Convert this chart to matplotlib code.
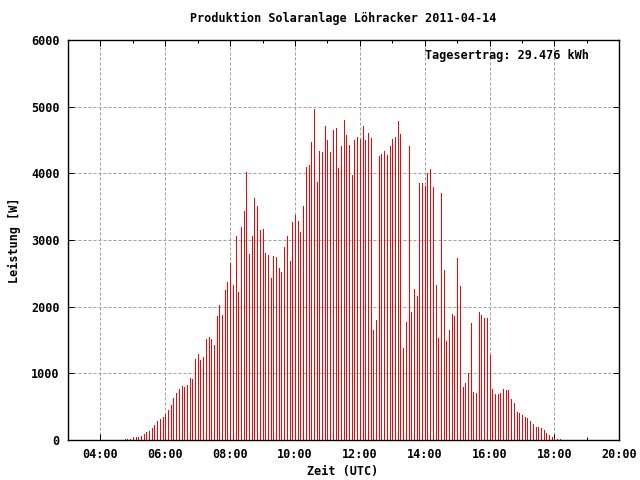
import matplotlib
matplotlib.use("Agg")
import matplotlib.pyplot as plt
import numpy as np

# ---- data (5-minute power readings, W) ----
start_hour = 4.75          # 04:45 UTC
step_hours = 5 / 60.0      # 5-minute interval
power_w = [
    15, 15, 15, 30, 45, 45, 65, 95, 120, 135, 180, 225, 285, 315, 345, 385, 450, 525, 630, 705,
    765, 810, 795, 825, 930, 915, 1215, 1290,
    1200, 1245, 1515, 1545, 1515, 1425, 1860, 2025, 1875, 2250, 2370, 2655, 2325, 3060, 2220, 3195,
    3435, 4020, 2790, 3060, 3630, 3510, 3150, 3165, 2805, 2775, 2430, 2760, 2745, 2580,
    2520, 2895, 3060, 2685, 3270, 3375, 3285, 3120, 3510, 4095, 4125, 4470, 4965, 3870, 4335, 4320,
    4710, 4500, 4320, 4650, 4680, 4080, 4410, 4800, 4575, 4425, 3975, 4500, 4545,
    4515, 4710, 4500, 4605, 4530, 1650, 1800, 4260, 4290, 4335, 4275, 4410, 4515, 4545, 4785, 4590,
    1380, 1770, 4410, 1920, 2265, 2160, 3855, 3855, 3810, 4005, 4065, 3795, 2325, 1530,
    3705, 2550, 1485, 1650, 1890, 1860, 2730, 2310, 795, 855, 1005, 1755, 720, 705, 1920, 1875,
    1830, 1830, 1275, 765, 690, 690, 705, 765, 750, 750, 615, 555, 420, 405,
    375, 345, 330, 285, 240, 195, 195, 180, 150, 105, 75, 45, 30, 15, 15,
]
x_major_ticks = [4, 6, 8, 10, 12, 14, 16, 18, 20]
x_tick_labels = ["04:00", "06:00", "08:00", "10:00", "12:00", "14:00", "16:00", "18:00", "20:00"]
y_ticks = [0, 1000, 2000, 3000, 4000, 5000, 6000]
title = "Produktion Solaranlage Löhracker 2011-04-14"
annotation = "Tagesertrag: 29.476 kWh"

times = start_hour + step_hours * np.arange(len(power_w))

FONT = ["DejaVu Sans Mono"]
fs = 8.5

fig = plt.figure(figsize=(6.4, 4.8), dpi=100)
ax = fig.add_axes([68 / 640, 40 / 480, (619.3 - 68) / 640, 400 / 480])
ax.set_xlim(3, 20)
ax.set_ylim(0, 6000)

ax.vlines(times, 0, power_w, colors="#ff0000", linewidth=0.72, antialiased=False, zorder=3)

# grid
ax.set_xticks(x_major_ticks)
ax.set_xticks(np.arange(3, 21, 1), minor=True)
ax.set_yticks(y_ticks)
ax.grid(True, which="major", color="#a0a0a0", linestyle=(0, (3, 2)), linewidth=0.72, zorder=1)
ax.set_axisbelow(True)

ax.set_xticklabels(x_tick_labels, fontfamily=FONT, fontsize=fs, fontweight="bold")
ax.set_yticklabels([str(v) for v in y_ticks], fontfamily=FONT, fontsize=fs, fontweight="bold")
ax.tick_params(axis="both", which="major", direction="in", length=4.5, width=0.72,
               top=True, right=True, color="black")
ax.tick_params(axis="x", which="minor", direction="in", length=2.5, width=0.72, top=True)
ax.tick_params(axis="x", which="major", pad=5.5)
ax.tick_params(axis="y", which="major", pad=6)

for s in ax.spines.values():
    s.set_linewidth(1.0)
    s.set_color("black")
    s.set_zorder(5)

fig.text(343 / 640, 1 - 18 / 480, title, ha="center", va="center",
         fontfamily=FONT, fontsize=fs, fontweight="bold")
fig.text(425 / 640, 1 - 55.5 / 480, annotation, ha="left", va="center",
         fontfamily=FONT, fontsize=fs, fontweight="bold")
fig.text(343 / 640, 1 - 471 / 480, "Zeit (UTC)", ha="center", va="center",
         fontfamily=FONT, fontsize=fs, fontweight="bold")
fig.text(14 / 640, 1 - 240 / 480, "Leistung [W]", ha="center", va="center", rotation=90,
         fontfamily=FONT, fontsize=fs, fontweight="bold")

fig.savefig("out.png", dpi=100)
